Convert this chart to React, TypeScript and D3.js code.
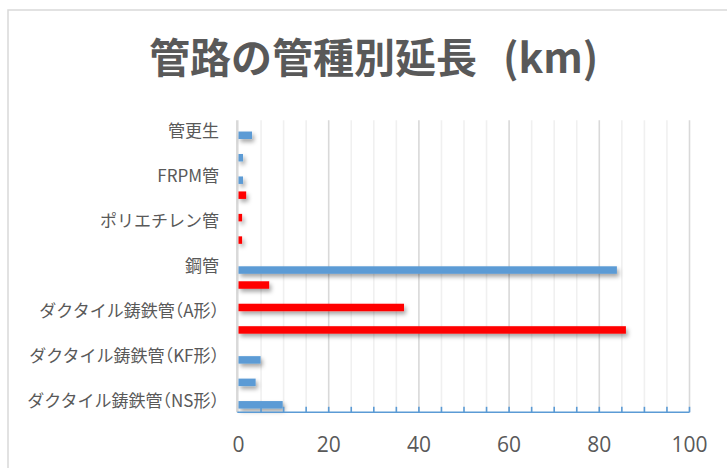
import React from "react";
import * as d3 from "d3";

// Pipe categories, listed bottom to top as the value axis reads them
const categories = [
  "ダクタイル鋳鉄管（NS形）",
  "ダクタイル鋳鉄管（GX形）",
  "ダクタイル鋳鉄管（KF形）",
  "ダクタイル鋳鉄管（K形）",
  "ダクタイル鋳鉄管（A形）",
  "鋳鉄管",
  "鋼管",
  "硬質塩化ビニル管",
  "ポリエチレン管",
  "石綿セメント管",
  "FRPM管",
  "ステンレス管",
  "管更生",
];

// Length in km per category
const seismicKm = [9.8, 3.8, 4.9, 0, 0, 0, 83.9, 0, 0, 0, 1.0, 1.0, 3.0];
const nonSeismicKm = [0, 0, 0, 85.9, 36.7, 6.8, 0, 0.8, 0.8, 1.7, 0, 0, 0];

const seriesNames = ["耐震管", "非耐震管"];
const seriesColors = ["#5B9BD5", "#FF0000"];

const xTicks = [0, 20, 40, 60, 80, 100];
const title = "管路の管種別延長";
const unit = "(km)";

const W = 727;
const H = 468;
const plot = { left: 238.5, right: 689.5, top: 120.3, bottom: 412.3 };

// Split a label so full-width brackets can be set at half width
function labelParts(label: string) {
  return label.split(/([（）])/).filter((p) => p.length > 0);
}

export default function App() {
  const x = d3.scaleLinear().domain([0, 100]).range([plot.left, plot.right]);
  // first category sits at the bottom
  const y = d3
    .scaleBand<string>()
    .domain([...categories].reverse())
    .range([plot.top, plot.bottom])
    .padding(0);
  // within a category the first series is drawn lowest
  const inner = d3
    .scaleBand<string>()
    .domain([...seriesNames].reverse())
    .range([0, y.bandwidth()])
    .paddingInner(0)
    .paddingOuter(0.5);

  const series = [seismicKm, nonSeismicKm];
  const gridValues = d3.range(5, 101, 5);
  const labelled = categories.filter((_, i) => i % 2 === 0);

  const grey = "#595959";
  const cjk = "'Noto Sans CJK JP', 'Noto Sans', sans-serif";

  return (
    <svg
      width={W}
      height={H}
      style={{ position: "absolute", left: 0, top: 0, background: "#fff" }}
      fontFamily={cjk}
    >
      <defs>
        <filter id="barShadow" x="-20%" y="-60%" width="140%" height="260%">
          <feDropShadow dx="2" dy="3" stdDeviation="2" floodColor="#000" floodOpacity="0.35" />
        </filter>
      </defs>

      {/* chart frame */}
      <rect x={8} y={10} width={W + 10} height={H + 10} fill="#fff" stroke="#d9d9d9" strokeWidth={1.5} />

      {/* title */}
      <text x={149} y={73} fontSize={41} fontWeight={700} fill={grey}>
        {title}
        <tspan dx={26}>{unit}</tspan>
      </text>

      {/* vertical gridlines */}
      {gridValues.map((v) => (
        <line
          key={v}
          x1={x(v)}
          x2={x(v)}
          y1={plot.top}
          y2={plot.bottom}
          stroke={v % 20 === 0 ? "#d9d9d9" : "#f0f0f0"}
          strokeWidth={1.6}
        />
      ))}
      <line x1={x(0) - 1.2} x2={x(0) - 1.2} y1={plot.top} y2={plot.bottom} stroke="#d9d9d9" strokeWidth={2.5} />

      {/* bars */}
      <g filter="url(#barShadow)">
        {categories.map((c, i) =>
          series.map((vals, s) =>
            vals[i] > 0 ? (
              <rect
                key={c + s}
                x={x(0)}
                y={(y(c) as number) + (inner(seriesNames[s]) as number)}
                width={x(vals[i]) - x(0)}
                height={inner.bandwidth()}
                fill={seriesColors[s]}
              />
            ) : null
          )
        )}
      </g>

      {/* value axis */}
      <line x1={x(0) - 1.2} x2={plot.right} y1={plot.bottom} y2={plot.bottom} stroke="#5B9BD5" strokeWidth={1.6} />
      {gridValues.map((v) => (
        <line
          key={"t" + v}
          x1={x(v)}
          x2={x(v)}
          y1={plot.bottom - 5.5}
          y2={plot.bottom}
          stroke="#5B9BD5"
          strokeWidth={1.6}
        />
      ))}
      {xTicks.map((v) => (
        <text
          key={"l" + v}
          x={x(v)}
          y={452}
          textAnchor="middle"
          fontSize={21}
          fill={grey}
          fontFamily="'Open Sans', 'Noto Sans', sans-serif"
        >
          {v}
        </text>
      ))}

      {/* category labels, every other one */}
      {labelled.map((c) => (
        <text
          key={c}
          x={219}
          y={(y(c) as number) + y.bandwidth() / 2}
          dy="0.35em"
          textAnchor="end"
          fontSize={17}
          fill={grey}
        >
          {labelParts(c).map((p, k) =>
            p === "（" || p === "）" ? (
              <tspan key={k} style={{ fontFeatureSettings: "'halt'" }}>
                {p}
              </tspan>
            ) : (
              <tspan key={k}>{p}</tspan>
            )
          )}
        </text>
      ))}
    </svg>
  );
}
